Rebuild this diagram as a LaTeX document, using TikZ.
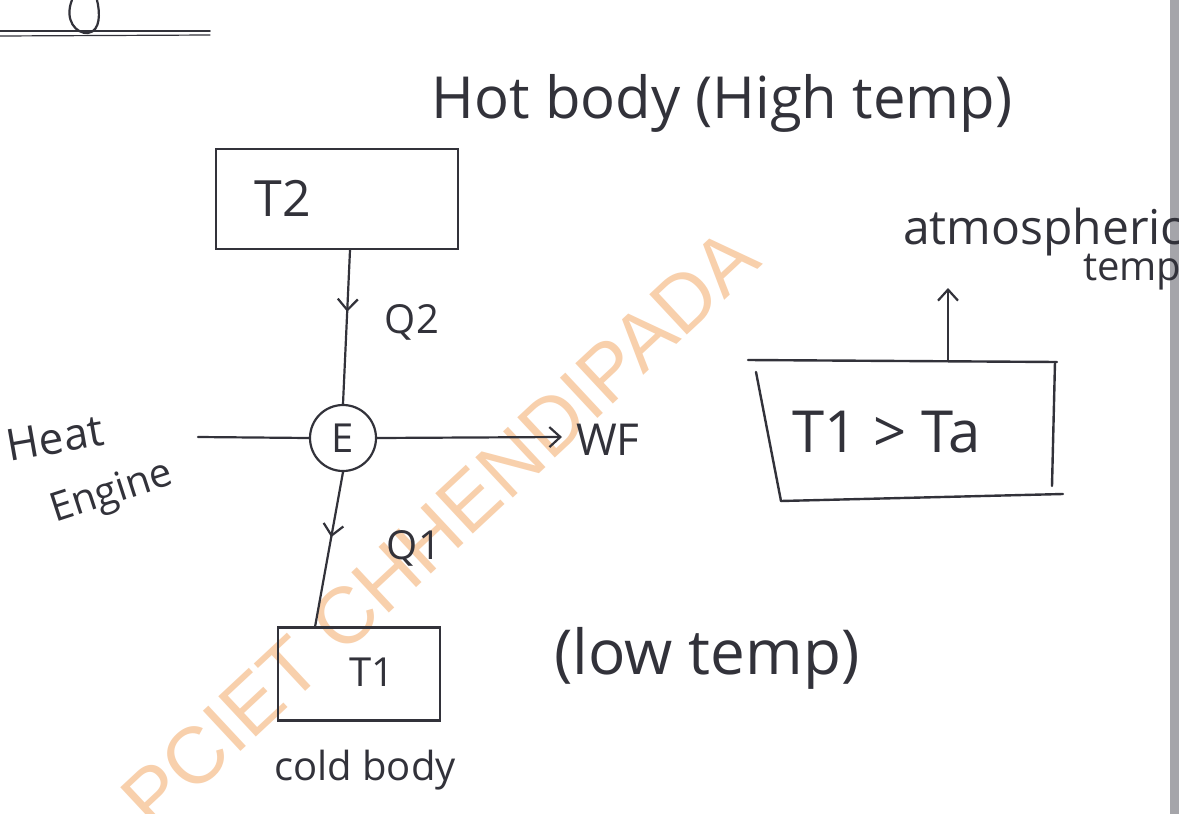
\documentclass[tikz,border=0pt]{standalone}
\usepackage{fontspec}
\setmainfont{Open Sans}
\newfontfamily\wmfont{Liberation Sans}
\usetikzlibrary{arrows.meta,decorations.markings}
\definecolor{inkc}{RGB}{50,50,58}
\definecolor{wmc}{RGB}{248,208,172}
\definecolor{scanc}{RGB}{165,165,170}
\newcommand{\fs}[1]{\fontsize{#1pt}{#1pt}\selectfont}
\begin{document}
\begin{tikzpicture}[x=1pt,y=-1pt,
  ink/.style={draw=inkc,line width=2.2pt,line cap=round},
  box/.style={draw=inkc,line width=2.4pt,inner sep=0pt,rectangle},
  lab/.style={text=inkc,inner sep=0pt},
  wm/.style={text=wmc,inner sep=0pt,font=\wmfont\fs{80}},
  tip/.style={-{Straight Barb[length=11pt,width=20pt,line width=2.2pt]}},
  midarrow/.style={postaction={decorate},decoration={markings,
     mark=at position #1 with {\arrow{Straight Barb[length=11pt,width=20pt,line width=2.2pt]}}}}
]
\useasboundingbox (0,0) rectangle (1179,814);
\clip (0,0) rectangle (1179,814);
\fill[white] (0,0) rectangle (1179,814);
\fill[scanc] (1170,0) rectangle (1179,814);

% watermark
\node[wm,rotate=43] (wm) at (440,528) {PCIET CHHENDIPADA};

% top-left fragment
\draw[ink,line width=1.6pt] (0,31) -- (210,31);
\draw[ink,line width=1.2pt] (0,36) -- (210,35);
\draw[ink] (72,0) .. controls (64,20) and (76,34) .. (88,33) .. controls (101,31) and (100,12) .. (97,0);

% titles
\node[lab,font=\fs{58}] (hot) at (722,103) {Hot body (High temp)};

% hot body box
\node[box,minimum width=242pt,minimum height=100pt] (T2) at (337,199) {};
\node[lab,font=\fs{50}] (T2t) at (283,198) {T2};

% engine
\node[draw=inkc,line width=2.2pt,circle,minimum size=66pt,inner sep=0pt,text=inkc,font=\fs{40}] (E) at (343,438) {E};

% cold body box
\node[box,minimum width=162pt,minimum height=93pt] (T1) at (359,674) {};
\node[lab,font=\fs{40}] (T1t) at (372,672) {T1};
\coordinate (t1top) at (315,627);

% connectors
\draw[ink,midarrow=0.4] (T2.south -| 350,0) -- (E.north);
\node[lab,font=\fs{40}] (Q2) at (412,322) {Q2};
\draw[ink,midarrow=0.42] (E.south) -- (t1top);
\node[lab,font=\fs{40}] (Q1) at (414,548) {Q1};

\coordinate (hl) at (198,437);
\draw[ink] (hl) -- (E.west);
\node[lab,font=\fs{44},anchor=west] (WF) at (576,440) {WF};
\coordinate (we) at (562,437);
\draw[ink,tip] (E.east) -- (we);

\node[lab,font=\fs{44},rotate=10] (heat) at (55,438) {Heat};
\node[lab,font=\fs{40},rotate=18] (eng) at (112,494) {Engine};

\node[lab,font=\fs{62}] (low) at (707,658) {(low temp)};
\node[lab,font=\fs{40}] (cold) at (365,770) {cold body};

% right box
\node[lab,font=\fs{58}] (ta) at (887,432) {T1 > Ta};
\draw[ink,line width=2.4pt] (748,360) -- (1057,362);
\draw[ink,line width=2.4pt] (1055,362) -- (1052,486);
\draw[ink,line width=2.4pt] (756,372) -- (781,501);
\draw[ink,line width=2.4pt] (781,501) -- (1063,494);
\coordinate (tab) at (948,361);
\coordinate (tat) at (948,288);
\draw[ink,tip] (tab) -- (tat);
\node[lab,font=\fs{48},anchor=west] (atm) at (903,232) {atmospheric};
\node[lab,font=\fs{40},anchor=west] (tmp) at (1083,272) {temp};
\end{tikzpicture}
\end{document}
